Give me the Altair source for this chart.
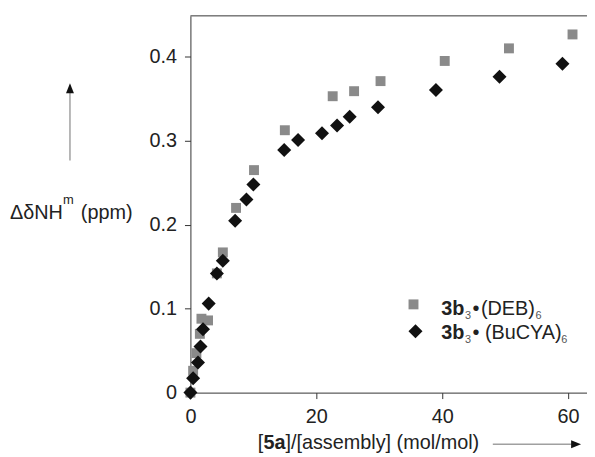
import altair as alt
import pandas as pd

# Series 3b3•(DEB)6  (grey squares)
deb_x = [0, 0.43, 0.95, 1.5, 1.75, 2.8, 4.2, 5.15, 7.25, 10.1, 15.0, 22.6, 26.0, 30.2, 40.4, 50.6, 60.7]
deb_y = [0, 0.026, 0.047, 0.070, 0.088, 0.086, 0.142, 0.167, 0.220, 0.265, 0.3125, 0.353, 0.359, 0.371, 0.395, 0.410, 0.4266]

# Series 3b3•(BuCYA)6  (black diamonds)
bucya_x = [0, 0.43, 1.2, 1.6, 2.0, 2.9, 4.2, 5.15, 7.1, 8.9, 10.0, 14.9, 17.1, 20.9, 23.3, 25.3, 29.8, 39.0, 49.1, 59.1]
bucya_y = [0, 0.017, 0.036, 0.055, 0.0756, 0.106, 0.142, 0.157, 0.2046, 0.230, 0.248, 0.289, 0.301, 0.309, 0.318, 0.3286, 0.340, 0.3605, 0.3763, 0.3916]

x_ticks = [0, 20, 40, 60]
y_ticks = [0, 0.1, 0.2, 0.3, 0.4]

W, H = 400, 380
FONT = "Liberation Sans"
OX, OY = 192, 14  # plot origin in page pixels

deb = pd.DataFrame({"x": deb_x, "y": deb_y})
bucya = pd.DataFrame({"x": bucya_x, "y": bucya_y})

xs = alt.Scale(domain=[0, 63], nice=False, zero=False)
ys = alt.Scale(domain=[0, 0.4487], nice=False, zero=False)

x_axis = alt.Axis(values=x_ticks, title=None, grid=False, labelFontSize=20, labelFont=FONT,
                  labelColor="#222", domainColor="#333", tickColor="#333", tickSize=6,
                  labelPadding=8, labelFlush=False)
y_axis = alt.Axis(values=y_ticks, title=None, grid=False, labelFontSize=20, labelFont=FONT,
                  labelColor="#222", domainColor="#333", tickColor="#333", tickSize=6,
                  labelPadding=8,
                  labelExpr="datum.value == 0 ? '0' : format(datum.value, '.1f')")

pts_deb = alt.Chart(deb).mark_point(shape="square", filled=True, size=100, color="#8a8a8a", opacity=1).encode(
    x=alt.X("x:Q", scale=xs, axis=x_axis),
    y=alt.Y("y:Q", scale=ys, axis=y_axis),
)
pts_bucya = alt.Chart(bucya).mark_point(shape="diamond", filled=True, size=200, color="#111111", opacity=1).encode(
    x=alt.X("x:Q", scale=xs),
    y=alt.Y("y:Q", scale=ys),
)

# top frame line
top_line = alt.Chart().mark_rule(color="#333", strokeWidth=1).encode(
    x=alt.value(0), x2=alt.value(W), y=alt.value(0))

def txt(s, ax, ay, size=20, weight="normal", color="#222"):
    return alt.Chart().mark_text(text=s, font=FONT, fontSize=size, fontWeight=weight, color=color,
                                 align="left", baseline="alphabetic").encode(
        x=alt.value(ax - OX), y=alt.value(ay - OY))

# x title pieces
xt_base = 451
x_title = [
    txt("[", 260, xt_base),
    txt("5a", 265.6, xt_base, weight="bold"),
    txt("]/[assembly] (mol/mol)", 287.8, xt_base),
]
# y title pieces
yt_base = 219
y_title = [
    txt("ΔδNH", 10, yt_base),
    txt("m", 63.4, 204, size=13),
    txt("(ppm)", 81.5, yt_base),
]
# legend
l1, l2 = 316, 340
legend_txt = [
    txt("3b", 445, l1, weight="bold"),
    txt("3", 469, l1 + 4, size=11, color="#555"),
    txt("•", 476.5, l1),
    txt("(DEB)", 485, l1),
    txt("6", 540, l1 + 4, size=11, color="#555"),
    txt("3b", 445, l2, weight="bold"),
    txt("3", 469, l2 + 4, size=11, color="#555"),
    txt("•", 476.5, l2),
    txt("(BuCYA)", 489, l2),
    txt("6", 566, l2 + 4, size=11, color="#555"),
]
leg_sq = alt.Chart().mark_point(shape="square", filled=True, size=100, color="#8a8a8a", opacity=1).encode(
    x=alt.value(417 - OX), y=alt.value(305 - OY))
leg_di = alt.Chart().mark_point(shape="diamond", filled=True, size=200, color="#111111", opacity=1).encode(
    x=alt.value(419 - OX), y=alt.value(332 - OY))

# arrows
up_line = alt.Chart().mark_rule(color="#a0a0a0", strokeWidth=1.5).encode(
    x=alt.value(70.5 - OX), y=alt.value(160 - OY), y2=alt.value(88 - OY))
up_head = alt.Chart().mark_point(shape="M0,-1L0.8,1L-0.8,1Z", filled=True, size=100, color="#111", opacity=1).encode(
    x=alt.value(70.5 - OX), y=alt.value(87 - OY))
r_line = alt.Chart().mark_rule(color="#a0a0a0", strokeWidth=1.5).encode(
    x=alt.value(497 - OX), x2=alt.value(580 - OX), y=alt.value(446 - OY))
r_head = alt.Chart().mark_point(shape="M1,0L-1,0.8L-1,-0.8Z", filled=True, size=100, color="#111", opacity=1).encode(
    x=alt.value(581 - OX), y=alt.value(446 - OY))

chart = alt.layer(
    pts_deb, pts_bucya, top_line, *x_title, *y_title, *legend_txt, leg_sq, leg_di,
    up_line, up_head, r_line, r_head
).properties(
    width=W, height=H,
    autosize=alt.AutoSizeParams(type="none"),
    padding={"left": OX - 8, "top": OY - 8, "right": 0, "bottom": 63},
    background="white",
).configure_view(stroke=None)

chart.save("out.html", embed_options={"renderer": "svg", "actions": False})
